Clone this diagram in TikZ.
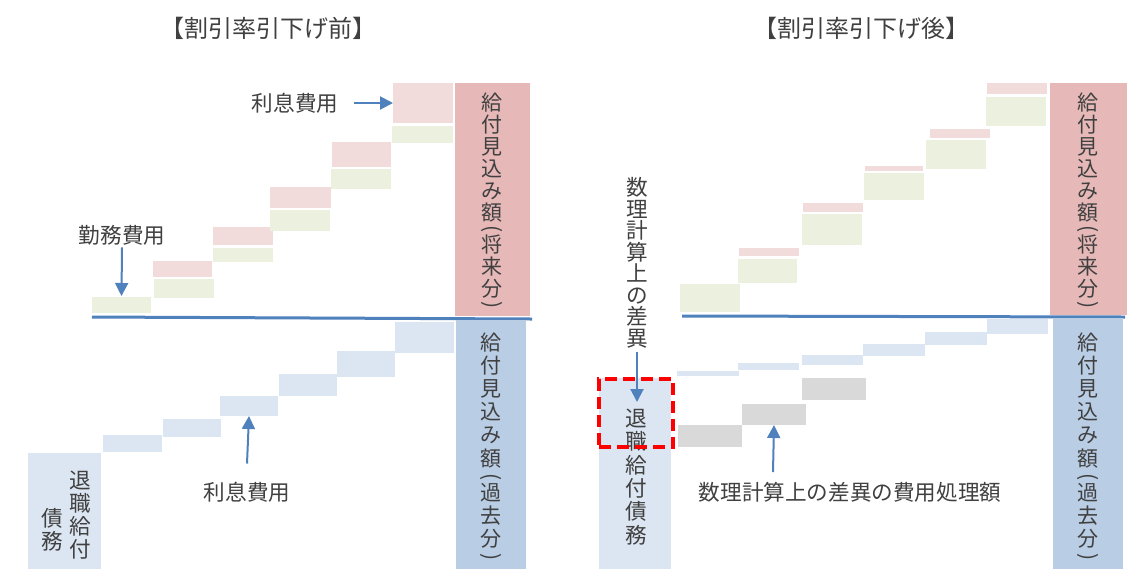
\documentclass[tikz,border=0pt]{standalone}
\usepackage{fontspec}
\setmainfont{Noto Sans CJK JP}
\usetikzlibrary{fit,arrows.meta}
\definecolor{cPinkBig}{HTML}{E6B9B8}
\definecolor{cPink}{HTML}{F2DCDB}
\definecolor{cGreen}{HTML}{EBF1DE}
\definecolor{cBlueL}{HTML}{DCE6F2}
\definecolor{cBlueBig}{HTML}{B9CDE5}
\definecolor{cGray}{HTML}{D9D9D9}
\definecolor{cLine}{HTML}{4F81BD}
\definecolor{cTxt}{HTML}{404040}
\newcommand{\myvpl}{\rotatebox[origin=c]{-90}{(}}
\newcommand{\myvpr}{\rotatebox[origin=c]{-90}{)}}
\begin{document}
\begin{tikzpicture}[x=0.5pt,y=-0.5pt,
  bx/.style={inner sep=0pt, outer sep=0pt, draw=none},
  lbl/.style={inner sep=0pt, text=cTxt, font=\fontsize{10.8pt}{13pt}\selectfont},
  ttl/.style={inner sep=0pt, text=cTxt, font=\fontsize{12pt}{14pt}\selectfont},
  vt/.style={inner sep=0pt, text=cTxt, align=center},
  arr/.style={draw=cLine, line width=1pt, -{Triangle[width=6.5pt,length=6.5pt]}},
  baseln/.style={draw=cLine, line width=1.5pt}]
\useasboundingbox (0,0) rectangle (1130,569);
\fill[white] (0,0) rectangle (1130,569);

% titles
\node[ttl] (t1) at (268,28) {【割引率引下げ前】};
\node[ttl] (t2) at (861,28) {【割引率引下げ後】};

% base lines
\coordinate (L0) at (92,317);
\coordinate (L1) at (532,319);
\draw[baseln] (L0) -- (L1);
\coordinate (R0) at (682,316);
\coordinate (R1) at (1125,317);
\draw[baseln] (R0) -- (R1);

% ---------- left panel, upper stairs ----------
\node[bx, fill=cGreen, fit={(92,297) (151,313)}] (g1) {};
\node[bx, fill=cPink,  fit={(153,261) (212,277)}] (p2) {};
\node[bx, fill=cGreen, fit={(154,279) (214,298)}] (g2) {};
\node[bx, fill=cPink,  fit={(213,227) (273,245)}] (p3) {};
\node[bx, fill=cGreen, fit={(213,248) (273,262)}] (g3) {};
\node[bx, fill=cPink,  fit={(270,187) (331,208)}] (p4) {};
\node[bx, fill=cGreen, fit={(270,210) (330,231)}] (g4) {};
\node[bx, fill=cPink,  fit={(332,142) (391,167)}] (p5) {};
\node[bx, fill=cGreen, fit={(331,169) (391,189)}] (g5) {};
\node[bx, fill=cPink,  fit={(393,83) (453,123)}] (p6) {};
\node[bx, fill=cGreen, fit={(392,126) (453,143)}] (g6) {};

% ---------- left panel, lower stairs ----------
\node[bx, fill=cBlueL, fit={(28,453) (101,569)}] (lrb) {};
\node[bx, fill=cBlueL, fit={(103,435) (162,452)}] (b1) {};
\node[bx, fill=cBlueL, fit={(163,419) (221,437)}] (b2) {};
\node[bx, fill=cBlueL, fit={(220,396) (278,416)}] (b3) {};
\node[bx, fill=cBlueL, fit={(279,374) (337,396)}] (b4) {};
\node[bx, fill=cBlueL, fit={(337,351) (395,377)}] (b5) {};
\node[bx, fill=cBlueL, fit={(395,322) (454,353)}] (b6) {};

% big boxes left
\node[bx, fill=cPinkBig, fit={(455,83) (530,316)}] (lpk) {};
\node[bx, fill=cBlueBig, fit={(456,319.5) (526,569)}] (lbl2) {};

% ---------- right panel, upper stairs ----------
\node[bx, fill=cGreen, fit={(680,284) (740,312)}] (rg1) {};
\node[bx, fill=cPink,  fit={(739,248) (799,256)}] (rp2) {};
\node[bx, fill=cGreen, fit={(738,259) (797,283)}] (rg2) {};
\node[bx, fill=cPink,  fit={(803,203) (863,212)}] (rp3) {};
\node[bx, fill=cGreen, fit={(802,214) (862,245)}] (rg3) {};
\node[bx, fill=cPink,  fit={(865,166) (923,171)}] (rp4) {};
\node[bx, fill=cGreen, fit={(864,173) (924,200)}] (rg4) {};
\node[bx, fill=cPink,  fit={(930,129) (990,138)}] (rp5) {};
\node[bx, fill=cGreen, fit={(926,140) (986,169)}] (rg5) {};
\node[bx, fill=cPink,  fit={(987,83) (1047,94)}] (rp6) {};
\node[bx, fill=cGreen, fit={(986,97) (1046,126)}] (rg6) {};

% ---------- right panel, lower stairs ----------
\node[bx, fill=cBlueL, fit={(677,371) (739,376)}] (rb1) {};
\node[bx, fill=cBlueL, fit={(738,363) (799,370)}] (rb2) {};
\node[bx, fill=cBlueL, fit={(802,355) (863,365)}] (rb3) {};
\node[bx, fill=cBlueL, fit={(863,344) (925,356)}] (rb4) {};
\node[bx, fill=cBlueL, fit={(925,332) (987,345)}] (rb5) {};
\node[bx, fill=cBlueL, fit={(987,319) (1048,334)}] (rb6) {};
\node[bx, fill=cGray, fit={(678,425) (742,447)}] (gr1) {};
\node[bx, fill=cGray, fit={(742,404) (806,425)}] (gr2) {};
\node[bx, fill=cGray, fit={(802,378) (866,400)}] (gr3) {};
\node[bx, fill=cBlueL, fit={(599,378) (671,569)}] (rrb) {};

% big boxes right
\node[bx, fill=cPinkBig, fit={(1050,83) (1127,315)}] (rpk) {};
\node[bx, fill=cBlueBig, fit={(1053,318) (1123,569)}] (rbb) {};

% ---------- vertical texts ----------
\node[vt, anchor=north, font=\fontsize{10.5pt}{11pt}\selectfont] (vtlp) at (492,92)
  {給\\付\\見\\込\\み\\額\\[-3pt]\myvpl\\[-3pt]将\\来\\分\\[-3pt]\myvpr};
\node[vt, anchor=north, font=\fontsize{10.5pt}{11.6pt}\selectfont] (vtlb) at (491,332)
  {給\\付\\見\\込\\み\\額\\[-3pt]\myvpl\\[-3pt]過\\去\\分\\[-3pt]\myvpr};
\node[vt, anchor=north, font=\fontsize{10.5pt}{11pt}\selectfont] (vtrp) at (1088,92)
  {給\\付\\見\\込\\み\\額\\[-3pt]\myvpl\\[-3pt]将\\来\\分\\[-3pt]\myvpr};
\node[vt, anchor=north, font=\fontsize{10.5pt}{11.6pt}\selectfont] (vtrb) at (1088,332)
  {給\\付\\見\\込\\み\\額\\[-3pt]\myvpl\\[-3pt]過\\去\\分\\[-3pt]\myvpr};

\node[vt, font=\fontsize{10.8pt}{11.6pt}\selectfont] (lrt1) at (80,515) {退\\職\\給\\付};
\node[vt, font=\fontsize{10.8pt}{11.6pt}\selectfont] (lrt2) at (52,530) {債\\務};
\node[vt, font=\fontsize{10.8pt}{11.7pt}\selectfont] (rrt) at (636,477) {退\\職\\給\\付\\債\\務};
\node[vt, font=\fontsize{10.8pt}{10.75pt}\selectfont] (diff) at (637,263) {数\\理\\計\\算\\上\\の\\差\\異};

% dashed highlight
\node[bx, draw=red, line width=2pt, dash pattern=on 6pt off 3pt, fit={(599,379) (673,447)}] (dbox) {};

% ---------- labels ----------
\node[lbl] (ic1) at (295,103) {利息費用};
\node[lbl] (sc) at (122,235) {勤務費用};
\node[lbl] (ic2) at (247,492) {利息費用};
\node[lbl] (amort) at (850,492) {数理計算上の差異の費用処理額};

% ---------- arrows ----------
\draw[arr] ([xshift=7.5pt]ic1.east) -- (p6.west);
\draw[arr] ([yshift=-1pt]sc.south) -- ([yshift=0.5pt]g1.north);
\draw[arr] ([yshift=9pt]ic2.north) -- (b3.south);
\coordinate (d1) at (637,402);
\draw[arr] ([yshift=-1.5pt]diff.south) -- (d1);
\coordinate (a0) at (773,472);
\draw[arr] (a0) -- (gr2.south);
\end{tikzpicture}
\end{document}
